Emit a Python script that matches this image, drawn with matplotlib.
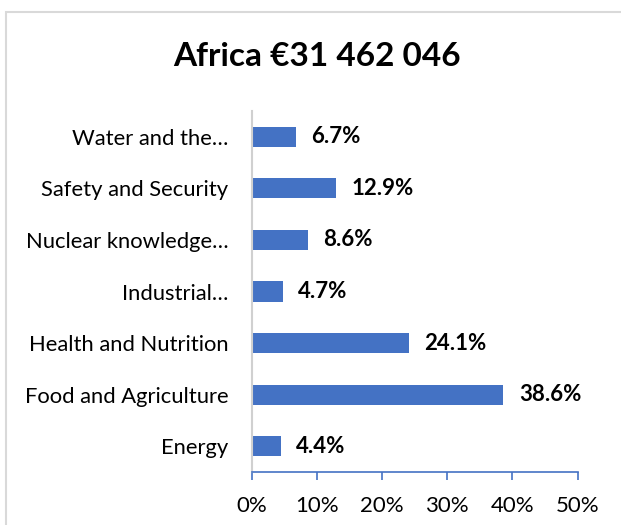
import matplotlib
matplotlib.use("Agg")
import matplotlib.pyplot as plt
from matplotlib.patches import Rectangle

categories = ["Energy", "Food and Agriculture", "Health and Nutrition",
              "Industrial\u2026", "Nuclear knowledge\u2026",
              "Safety and Security", "Water and the\u2026"]
shares = [4.4, 38.6, 24.1, 4.7, 8.6, 12.9, 6.7]
xticks = [0, 10, 20, 30, 40, 50]
title = "Africa \u20ac31 462 046"

BLUE = "#4472C4"
plt.rcParams['font.family'] = ['Lato', 'DejaVu Sans']

fig = plt.figure(figsize=(6.21, 5.25), dpi=100)
ax = fig.add_axes([252 / 621, 1 - 472 / 525, 325.5 / 621, 361 / 525])

y = range(len(categories))
ax.barh(y, shares, height=0.39, color=BLUE)
for yi, v in zip(y, shares):
    ax.text(v + 2.4, yi, f"{v:.1f}%", va="center", ha="left",
            fontsize=16, fontweight="bold", color="black")

ax.set_xlim(0, 50)
ax.set_ylim(-0.5, len(categories) - 0.5)
ax.set_yticks(list(y))
ax.set_yticklabels(categories, fontsize=15.8)
ax.set_xticks(xticks)
ax.set_xticklabels([f"{t}%" for t in xticks], fontsize=16)
ax.tick_params(axis="y", length=0, pad=17)
ax.tick_params(axis="x", direction="out", length=6, color=BLUE, width=1.2, pad=11)

for s in ["top", "right"]:
    ax.spines[s].set_visible(False)
ax.spines["left"].set_color("#d0d0d0")
ax.spines["left"].set_linewidth(1.5)
ax.spines["bottom"].set_color(BLUE)
ax.spines["bottom"].set_linewidth(1.2)

fig.text(317 / 621, 1 - 57 / 525, title, ha="center", va="center",
         fontsize=24, fontweight="bold")

# chart frame (partly cropped in the reference)
fig.patches.append(Rectangle((6 / 621, -0.2), 1.2, 1.2 - 12 / 525,
                             transform=fig.transFigure, fill=False,
                             edgecolor="#d9d9d9", linewidth=1.5))

fig.savefig("out.png", dpi=100)
